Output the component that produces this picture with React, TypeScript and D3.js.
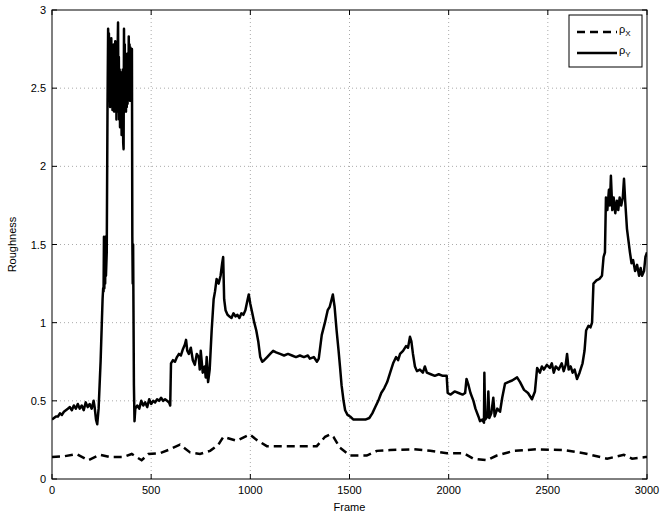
import React from "react";
import * as d3 from "d3";

// x ticks / y ticks
const xTicks = [0, 500, 1000, 1500, 2000, 2500, 3000];
const yTicks = [0, 0.5, 1, 1.5, 2, 2.5, 3];

// rho_Y (solid) frames and values
const yFrames = [
  0, 10, 20, 30, 40, 50, 60, 70, 80, 90, 100, 110, 120, 130, 140, 150, 160, 170, 180, 190, 200, 210, 215, 222, 228, 235,
  245, 255, 258, 260, 262, 264, 266, 268, 270, 272, 276,
  280, 283, 285, 287, 289, 291, 293, 295, 297, 299, 301, 303, 305, 307, 309, 311, 313, 315, 317, 319, 321, 323, 325, 327,
  329, 331, 333, 335, 337, 339, 341, 343, 345, 347, 349, 351, 353, 355, 357, 359, 361, 363, 365, 367, 369, 371, 373, 375,
  377, 379, 381, 383, 385, 387, 389, 391, 393, 395, 397, 399, 401, 403,
  405, 407, 409, 413, 416, 420, 430, 440, 450,
  460, 470, 480, 490, 500, 510, 520, 530, 540, 550, 560, 570, 580, 590, 596, 600, 610, 620, 630, 640, 650, 660, 670, 676,
  682, 690, 700, 710, 720, 730, 740, 745, 750, 760, 770, 775, 780, 787, 795, 805, 815, 822, 830, 840, 850, 858, 863, 868,
  875, 885, 895, 905, 915, 925, 935, 945, 955, 965, 975, 985, 992, 1000, 1010, 1020, 1030, 1040, 1050, 1060, 1070, 1085,
  1100, 1115, 1130, 1150, 1170, 1190, 1210, 1230, 1250, 1270, 1290, 1300, 1320, 1336, 1345, 1360, 1376, 1390, 1400, 1410,
  1416, 1425, 1435, 1445, 1452, 1460, 1470, 1478, 1490, 1503, 1520, 1550, 1580, 1600, 1615, 1630, 1645, 1660, 1675, 1690,
  1705, 1720, 1735, 1745, 1755, 1770, 1785, 1795, 1805, 1812, 1820, 1830, 1840, 1855, 1870, 1880, 1890, 1910, 1930, 1950,
  1970, 1990, 1995, 2010, 2030, 2050, 2070, 2083, 2090, 2100, 2110, 2125, 2135, 2150, 2158, 2170, 2178, 2180, 2184, 2195,
  2200, 2205, 2215, 2225, 2232, 2245, 2259, 2270, 2284, 2300, 2320, 2345, 2360, 2380, 2400, 2420, 2435, 2446, 2460, 2470,
  2480, 2495, 2510, 2520, 2530, 2540, 2555, 2570, 2580, 2590, 2597, 2605, 2615, 2625, 2635, 2647, 2660, 2675, 2685, 2693,
  2705, 2715, 2723, 2730, 2745, 2760, 2773, 2781, 2788, 2793, 2800, 2808, 2813, 2818, 2825, 2832, 2840, 2848, 2855, 2862,
  2870, 2878, 2884, 2890, 2899, 2907, 2914, 2922, 2930, 2940, 2950, 2960, 2968, 2975, 2985, 2992, 3000,
];
const yValues = [
  0.38, 0.39, 0.4, 0.4, 0.42, 0.41, 0.43, 0.44, 0.45, 0.46, 0.44, 0.47, 0.45, 0.48, 0.45, 0.47, 0.44, 0.49, 0.46, 0.48, 0.45, 0.5, 0.46, 0.38, 0.35, 0.45,
  0.75, 1.15, 1.22, 1.2, 1.55, 1.22, 1.52, 1.25, 1.55, 1.3, 1.45,
  2.4, 2.88, 2.5, 2.85, 2.42, 2.8, 2.38, 2.75, 2.55, 2.82, 2.4, 2.72, 2.36, 2.68, 2.45, 2.78, 2.35, 2.62, 2.4, 2.8, 2.45, 2.7, 2.3, 2.58,
  2.35, 2.75, 2.92, 2.4, 2.7, 2.3, 2.62, 2.25, 2.55, 2.28, 2.6, 2.2, 2.52, 2.25, 2.62, 2.15, 2.11, 2.88, 2.45, 2.78, 2.38, 2.7, 2.35, 2.66,
  2.38, 2.72, 2.4, 2.68, 2.45, 2.83, 2.5, 2.78, 2.42, 2.76, 2.48, 2.75, 2.52, 2.75,
  1.55, 1.25, 1.5, 0.6, 0.37, 0.45, 0.47, 0.45, 0.5,
  0.47, 0.49, 0.46, 0.51, 0.48, 0.5, 0.49, 0.51, 0.5, 0.52, 0.5, 0.51, 0.5, 0.49, 0.47, 0.74, 0.76, 0.75, 0.78, 0.8, 0.79, 0.83, 0.86, 0.89,
  0.82, 0.8, 0.84, 0.76, 0.73, 0.8, 0.78, 0.7, 0.82, 0.68, 0.72, 0.65, 0.78, 0.62, 0.7, 0.95, 1.15, 1.2, 1.28, 1.25, 1.3, 1.38, 1.42, 1.15,
  1.08, 1.05, 1.04, 1.03, 1.06, 1.04, 1.05, 1.03, 1.06, 1.05, 1.08, 1.14, 1.18, 1.12, 1.06, 1.0, 0.95, 0.88, 0.78, 0.75, 0.76, 0.78,
  0.8, 0.82, 0.81, 0.8, 0.79, 0.8, 0.79, 0.78, 0.79, 0.78, 0.79, 0.77, 0.78, 0.75, 0.77, 0.92, 1.0, 1.08, 1.1, 1.15,
  1.18, 1.1, 0.95, 0.82, 0.72, 0.6, 0.5, 0.44, 0.41, 0.4, 0.38, 0.38, 0.38, 0.39, 0.42, 0.46, 0.5, 0.55, 0.58, 0.62,
  0.68, 0.74, 0.78, 0.76, 0.8, 0.82, 0.85, 0.84, 0.91, 0.88, 0.8, 0.72, 0.69, 0.7, 0.68, 0.72, 0.68, 0.67, 0.66, 0.67,
  0.66, 0.66, 0.55, 0.54, 0.56, 0.55, 0.54, 0.55, 0.64, 0.6, 0.55, 0.5, 0.45, 0.4, 0.37, 0.38, 0.36, 0.68, 0.38, 0.4,
  0.56, 0.39, 0.42, 0.52, 0.4, 0.45, 0.43, 0.52, 0.61, 0.62, 0.63, 0.65, 0.62, 0.57, 0.55, 0.51, 0.56, 0.71, 0.68, 0.72,
  0.7, 0.73, 0.71, 0.74, 0.68, 0.72, 0.7, 0.74, 0.69, 0.73, 0.8, 0.7, 0.72, 0.68, 0.7, 0.64, 0.68, 0.74, 0.82, 0.95,
  0.98, 0.97, 1.0, 1.25, 1.27, 1.28, 1.3, 1.42, 1.45, 1.8, 1.72, 1.85, 1.75, 1.94, 1.72, 1.8, 1.7, 1.78, 1.72, 1.8,
  1.75, 1.8, 1.92, 1.78, 1.6, 1.52, 1.45, 1.38, 1.4, 1.33, 1.37, 1.3, 1.35, 1.3, 1.33, 1.42, 1.45,
];

// rho_X (dashed) frames and values
const xFrames = [
  0, 60, 124, 183, 242, 292, 359, 402, 452, 486, 544, 595, 645, 696, 746, 797, 839, 864, 931, 998, 1032, 1083, 1167, 1335,
  1377, 1402, 1419, 1452, 1503, 1587, 1638, 1705, 1823, 1907, 1991, 2075, 2125, 2192, 2243, 2327, 2445, 2580, 2681, 2799,
  2883, 2925, 2992, 3000,
];
const xValues = [
  0.14, 0.145, 0.16, 0.12, 0.155, 0.14, 0.14, 0.16, 0.12, 0.16, 0.165, 0.19, 0.22, 0.17, 0.16, 0.18, 0.22, 0.27, 0.245, 0.285,
  0.25, 0.21, 0.21, 0.21, 0.27, 0.285, 0.27, 0.2, 0.15, 0.15, 0.18, 0.185, 0.19, 0.18, 0.165, 0.165, 0.13, 0.12, 0.15, 0.18,
  0.19, 0.185, 0.165, 0.13, 0.155, 0.13, 0.14, 0.14,
];

const W = 660;
const H = 516;
const left = 52;
const right = 647;
const top = 10;
const bottom = 479;
const font = "'Liberation Sans', Arial, Helvetica, sans-serif";

export default function App() {
  const x = d3.scaleLinear().domain([0, 3000]).range([left, right]);
  const y = d3.scaleLinear().domain([0, 3]).range([bottom, top]);

  const lineGen = d3
    .line<[number, number]>()
    .x((d) => x(d[0]))
    .y((d) => y(d[1]));

  const solid = lineGen(yFrames.map((f, i) => [f, yValues[i]] as [number, number])) || "";
  const dashed = lineGen(xFrames.map((f, i) => [f, xValues[i]] as [number, number])) || "";

  const tickLen = 5;

  return (
    <svg width={W} height={H} style={{ position: "absolute", left: 0, top: 0, background: "#fff" }}>
      <rect x={0} y={0} width={W} height={H} fill="#fff" />
      {/* grid */}
      {xTicks.slice(1, -1).map((t) => (
        <line key={"gx" + t} x1={x(t)} x2={x(t)} y1={top} y2={bottom} stroke="#aaa" strokeWidth={1} strokeDasharray="1,3" />
      ))}
      {yTicks.slice(1, -1).map((t) => (
        <line key={"gy" + t} x1={left} x2={right} y1={y(t)} y2={y(t)} stroke="#aaa" strokeWidth={1} strokeDasharray="1,3" />
      ))}
      <defs>
        <clipPath id="plotclip">
          <rect x={left} y={top} width={right - left} height={bottom - top} />
        </clipPath>
      </defs>
      <g clipPath="url(#plotclip)">
        <path d={dashed} fill="none" stroke="#000" strokeWidth={2.5} strokeDasharray="8,5" />
        <path d={solid} fill="none" stroke="#000" strokeWidth={2.5} strokeLinejoin="round" />
      </g>
      {/* box */}
      <rect x={left} y={top} width={right - left} height={bottom - top} fill="none" stroke="#000" strokeWidth={1} />
      {/* ticks */}
      {xTicks.map((t) => (
        <g key={"tx" + t}>
          <line x1={x(t)} x2={x(t)} y1={bottom} y2={bottom - tickLen} stroke="#000" />
          <line x1={x(t)} x2={x(t)} y1={top} y2={top + tickLen} stroke="#000" />
          <text x={x(t)} y={bottom + 15} textAnchor="middle" fontFamily={font} fontSize={11}>
            {t}
          </text>
        </g>
      ))}
      {yTicks.map((t) => (
        <g key={"ty" + t}>
          <line x1={left} x2={left + tickLen} y1={y(t)} y2={y(t)} stroke="#000" />
          <line x1={right} x2={right - tickLen} y1={y(t)} y2={y(t)} stroke="#000" />
          <text x={left - 6} y={y(t) + 4} textAnchor="end" fontFamily={font} fontSize={11}>
            {t}
          </text>
        </g>
      ))}
      <text x={(left + right) / 2} y={511} textAnchor="middle" fontFamily={font} fontSize={11}>
        Frame
      </text>
      <text
        transform={`translate(16,${(top + bottom) / 2}) rotate(-90)`}
        textAnchor="middle"
        fontFamily={font}
        fontSize={11}
      >
        Roughness
      </text>
      {/* legend */}
      <rect x={569} y={15} width={73} height={52} fill="#fff" stroke="#000" strokeWidth={1} />
      <line x1={577} x2={617} y1={32} y2={32} stroke="#000" strokeWidth={2.5} strokeDasharray="8,5" />
      <line x1={577} x2={617} y1={53} y2={53} stroke="#000" strokeWidth={2.5} />
      <text x={619} y={33} fontFamily={font} fontSize={11}>
        ρ<tspan fontSize={8} dy={3}>X</tspan>
      </text>
      <text x={619} y={54} fontFamily={font} fontSize={11}>
        ρ<tspan fontSize={8} dy={3}>Y</tspan>
      </text>
    </svg>
  );
}
